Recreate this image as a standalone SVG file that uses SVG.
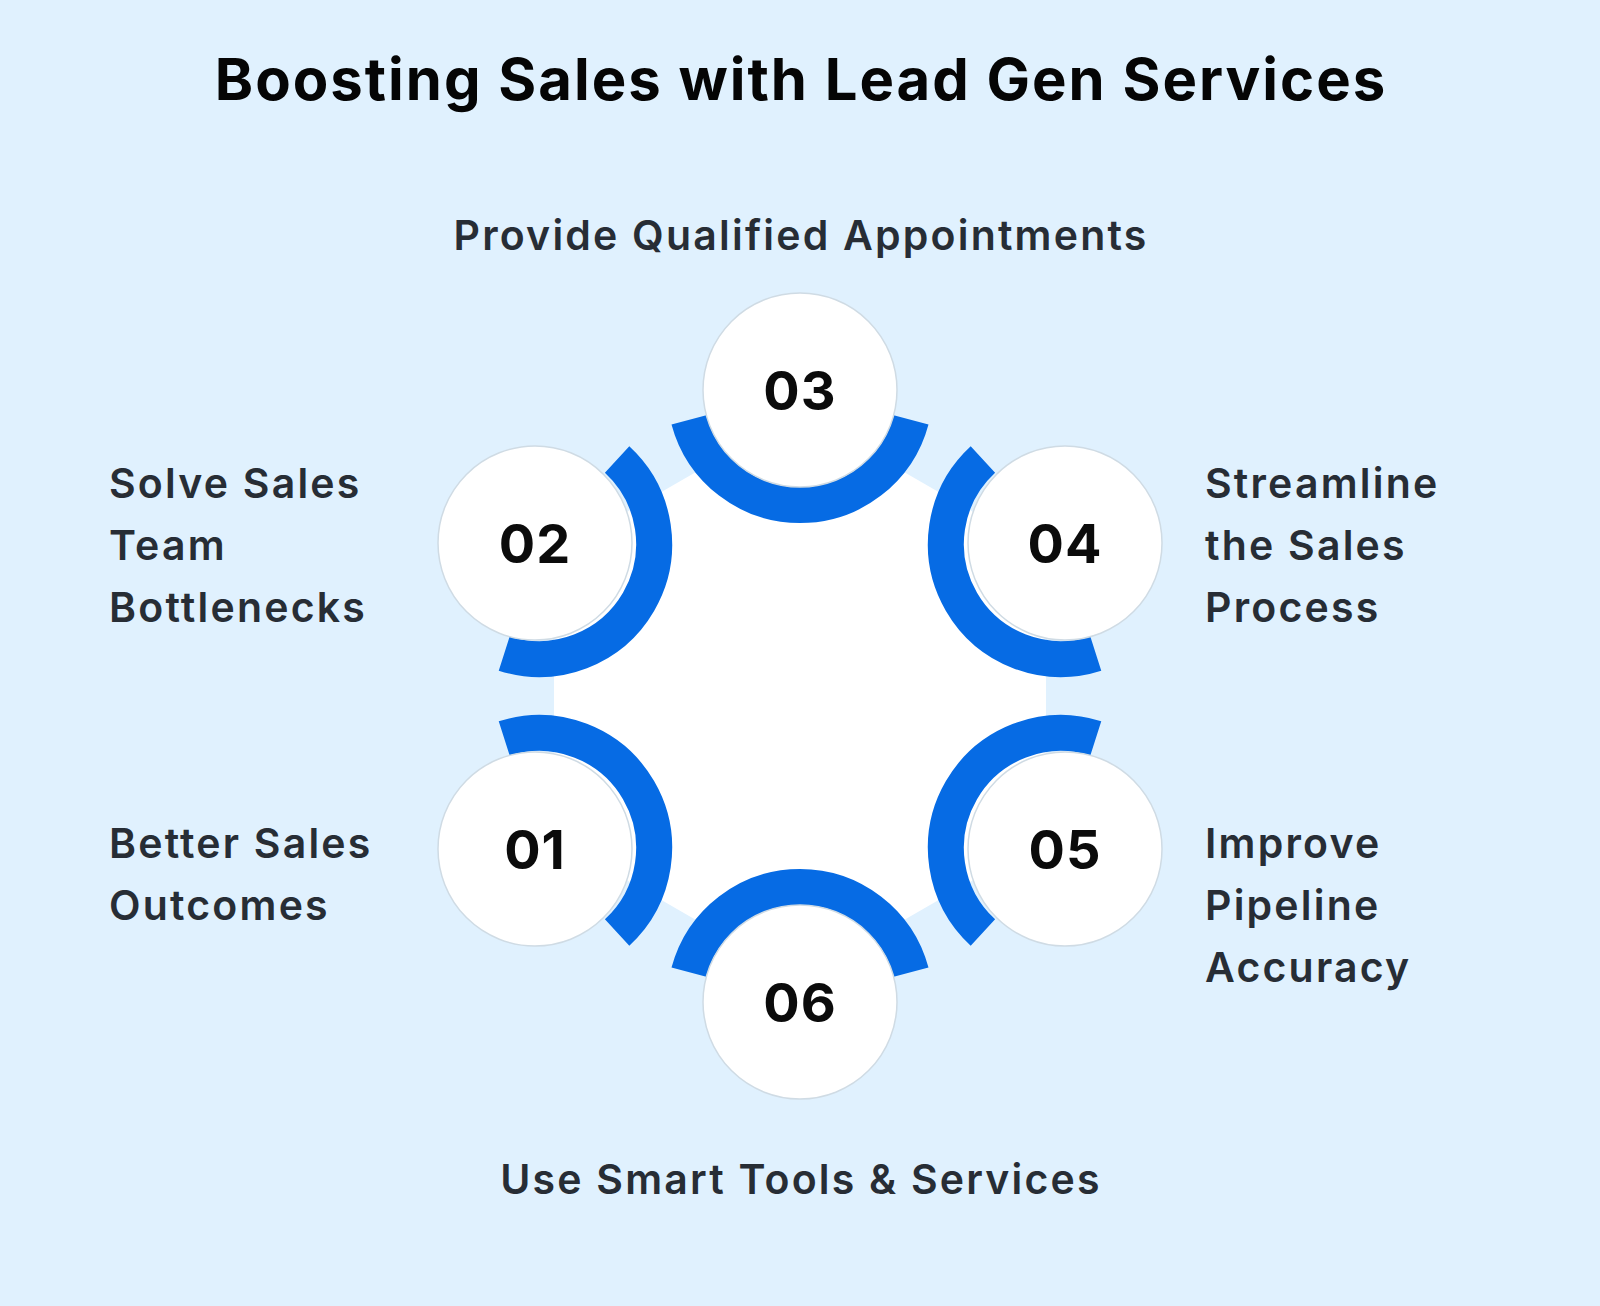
<svg xmlns="http://www.w3.org/2000/svg" width="1600" height="1306" viewBox="0 0 1600 1306">
<style>
.arc{fill:none;stroke:#066be4;stroke-width:36;stroke-linecap:butt}
.c{fill:#fff;stroke:#cfdbe4;stroke-width:1.5}
.n{font-family:Inter,"Liberation Sans",sans-serif;font-weight:700;font-size:54px;fill:#0b0b0b;text-anchor:middle;dominant-baseline:central;letter-spacing:1px}
.l{font-family:Inter,"Liberation Sans",sans-serif;font-weight:600;font-size:41px;fill:#272d35;letter-spacing:2.2px}
.t{font-family:Inter,"Liberation Sans",sans-serif;font-weight:700;font-size:58px;fill:#050505;text-anchor:middle;letter-spacing:2px}
</style>
<rect width="1600" height="1306" fill="#e0f1fe"/>
<text class="t" x="801" y="100">Boosting Sales with Lead Gen Services</text>
<polygon points="800,412 1046,554 1046,838 800,980 554,838 554,554" fill="#fff"/>
<g id="connectors">
<path class="arc" d="M911.1,419.8 A115,115 0 0 1 688.9,419.8"/>
<path class="arc" d="M1095.8,653.6 A115,115 0 0 1 982.9,459.5"/>
<path class="arc" d="M982.9,932.5 A115,115 0 0 1 1095.8,738.4"/>
<path class="arc" d="M688.9,972.2 A115,115 0 0 1 911.1,972.2"/>
<path class="arc" d="M504.2,738.4 A115,115 0 0 1 617.1,932.5"/>
<path class="arc" d="M617.1,459.5 A115,115 0 0 1 504.2,653.6"/>
</g>
<g id="n03"><circle class="c" cx="800" cy="390" r="97"/><text class="n" x="800" y="390">03</text>
<text class="l" x="801" y="250" text-anchor="middle">Provide Qualified Appointments</text></g>
<g id="n04"><circle class="c" cx="1065" cy="543" r="97"/><text class="n" x="1065" y="543">04</text>
<text class="l" x="1205" y="498">Streamline</text><text class="l" x="1205" y="560">the Sales</text><text class="l" x="1205" y="622">Process</text></g>
<g id="n05"><circle class="c" cx="1065" cy="849" r="97"/><text class="n" x="1065" y="849">05</text>
<text class="l" x="1205" y="858">Improve</text><text class="l" x="1205" y="920">Pipeline</text><text class="l" x="1205" y="982">Accuracy</text></g>
<g id="n06"><circle class="c" cx="800" cy="1002" r="97"/><text class="n" x="800" y="1002">06</text>
<text class="l" x="801" y="1194" text-anchor="middle">Use Smart Tools &amp; Services</text></g>
<g id="n01"><circle class="c" cx="535" cy="849" r="97"/><text class="n" x="535" y="849">01</text>
<text class="l" x="109" y="858">Better Sales</text><text class="l" x="109" y="920">Outcomes</text></g>
<g id="n02"><circle class="c" cx="535" cy="543" r="97"/><text class="n" x="535" y="543">02</text>
<text class="l" x="109" y="498">Solve Sales</text><text class="l" x="109" y="560">Team</text><text class="l" x="109" y="622">Bottlenecks</text></g>
</svg>
